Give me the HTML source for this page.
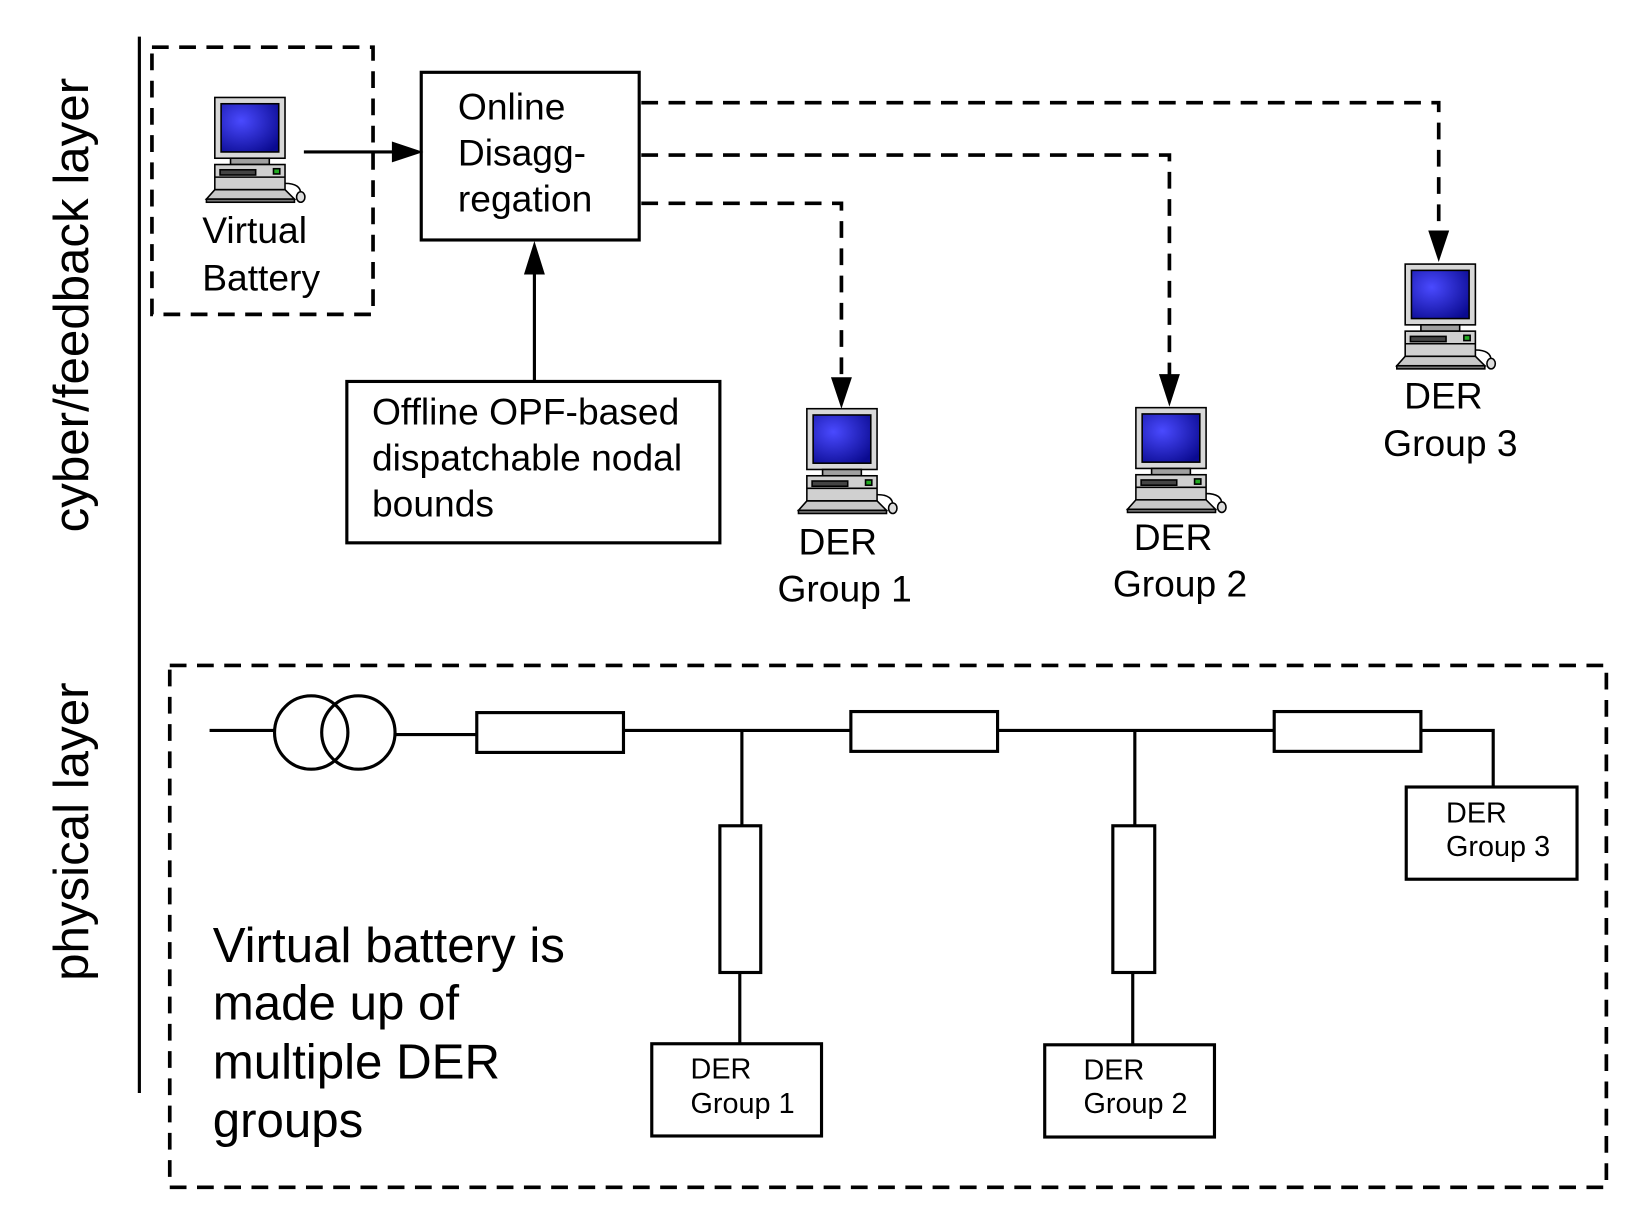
<!DOCTYPE html>
<html><head><meta charset="utf-8"><style>
html,body{margin:0;padding:0;background:#fff;width:1642px;height:1224px;overflow:hidden}
svg{display:block}
text{font-family:"Liberation Sans",Arial,sans-serif;fill:#000}
</style></head><body>
<svg width="1642" height="1224" viewBox="0 0 1567 1168" preserveAspectRatio="none" xmlns="http://www.w3.org/2000/svg">
<defs>
<radialGradient id="scr" cx="0.35" cy="0.35" r="0.8">
<stop offset="0" stop-color="#4a4aff"/><stop offset="1" stop-color="#0a0a90"/>
</radialGradient>
<g id="pc" stroke="#000" stroke-width="1.5">
<rect x="8" y="0" width="67" height="58" fill="#d8d8d8"/>
<rect x="14" y="6" width="55" height="46" fill="url(#scr)"/>
<rect x="23" y="58" width="37" height="6" fill="#a0a0a0"/>
<rect x="8" y="64" width="67" height="24" fill="#d0d0d0"/>
<rect x="13" y="69" width="34" height="5" fill="#444"/>
<line x1="8" y1="76" x2="75" y2="76"/>
<rect x="64" y="68" width="6" height="5" fill="#2a2"/>
<polygon points="8,88 75,88 84,97 0,97" fill="#c8c8c8"/>
<rect x="0" y="97" width="84" height="3" fill="#777"/>
<path d="M75 82 Q90 82 90 92" fill="none"/>
<ellipse cx="90" cy="95" rx="4" ry="5" fill="#ddd"/>
</g>
</defs>
<g fill="none" stroke="#000" stroke-width="3">
<line x1="133" y1="35" x2="133" y2="1043"/>
<line x1="290" y1="145" x2="380" y2="145"/>
<line x1="510" y1="364" x2="510" y2="255"/>
<rect x="402" y="69" width="208" height="160"/>
<rect x="331" y="364" width="356" height="154"/>
<line x1="200" y1="697" x2="262" y2="697"/>
<circle cx="297" cy="699" r="35"/>
<circle cx="342" cy="699" r="35"/>
<line x1="377" y1="701" x2="455" y2="701"/>
<rect x="455" y="680" width="140" height="38"/>
<line x1="595" y1="697" x2="812" y2="697"/>
<rect x="812" y="679" width="140" height="38"/>
<line x1="952" y1="697" x2="1216" y2="697"/>
<rect x="1216" y="679" width="140" height="38"/>
<polyline points="1356,697 1425,697 1425,751"/>
<rect x="1342" y="751" width="163" height="88"/>
<line x1="708" y1="697" x2="708" y2="788"/>
<rect x="687" y="788" width="39" height="140"/>
<line x1="706" y1="928" x2="706" y2="996"/>
<rect x="622" y="996" width="162" height="88"/>
<line x1="1083" y1="697" x2="1083" y2="788"/>
<rect x="1062" y="788" width="40" height="140"/>
<line x1="1081" y1="928" x2="1081" y2="997"/>
<rect x="997" y="997" width="162" height="88"/>
</g>
<g fill="none" stroke="#000" stroke-width="3.5" stroke-dasharray="16,10">
<rect x="145" y="45" width="211" height="255"/>
<polyline points="612,98 1373,98 1373,225"/>
<polyline points="612,148 1116,148 1116,362"/>
<polyline points="612,194 803,194 803,364"/>
<rect x="162" y="635" width="1371" height="498"/>
</g>
<g fill="#000">
<polygon points="404,145 374,135 374,155"/>
<polygon points="510,230 500,262 520,262"/>
<polygon points="1373,250 1363,220 1383,220"/>
<polygon points="1116,388 1106,357 1126,357"/>
<polygon points="803,390 793,360 813,360"/>
</g>
<use href="#pc" x="197" y="93"/>
<use href="#pc" x="762" y="390"/>
<use href="#pc" x="1076" y="389"/>
<use href="#pc" x="1333" y="252"/>
<g font-size="35.5">
<text x="193" y="232">Virtual</text>
<text x="193" y="277">Battery</text>
<text x="437" y="114">Online</text>
<text x="437" y="158">Disagg-</text>
<text x="437" y="202">regation</text>
<text x="355" y="405">Offline OPF-based</text>
<text x="355" y="449">dispatchable nodal</text>
<text x="355" y="493">bounds</text>
<text x="762" y="529">DER</text>
<text x="742" y="574">Group 1</text>
<text x="1082" y="525">DER</text>
<text x="1062" y="569">Group 2</text>
<text x="1340" y="390">DER</text>
<text x="1320" y="435">Group 3</text>
</g>
<g font-size="27.5">
<text x="659" y="1029">DER</text>
<text x="659" y="1062">Group 1</text>
<text x="1034" y="1030">DER</text>
<text x="1034" y="1062">Group 2</text>
<text x="1380" y="785">DER</text>
<text x="1380" y="817">Group 3</text>
</g>
<g font-size="47">
<text x="203" y="918">Virtual battery is</text>
<text x="203" y="973">made up of</text>
<text x="203" y="1029">multiple DER</text>
<text x="203" y="1085">groups</text>
</g>
<g font-size="47">
<text transform="translate(84,508) rotate(-90)">cyber/feedback layer</text>
<text transform="translate(84,936) rotate(-90)">physical layer</text>
</g>
</svg>
</body></html>
